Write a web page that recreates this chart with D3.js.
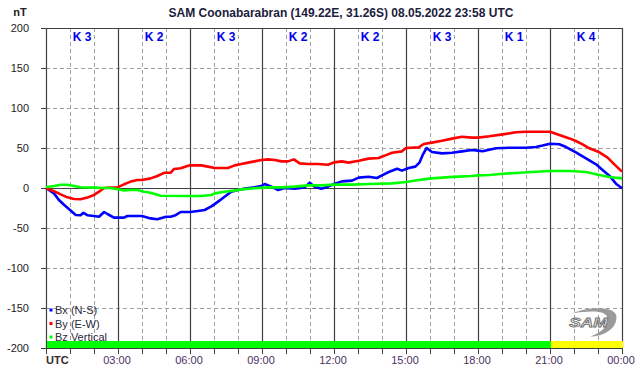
<!DOCTYPE html>
<html>
<head>
<meta charset="utf-8">
<script src="https://cdn.jsdelivr.net/npm/d3@7"></script>
<style>
  body { margin: 0; background: #fff; }
  svg { display: block; }
  text { font-family: Arial, 'Liberation Sans', sans-serif; }
</style>
</head>
<body>
<div id="main"></div>
<script>
// magnetometer readings, hours since 00:00 UTC -> nT
const bxHours = [0, 0.33, 0.54, 0.75, 1.0, 1.24, 1.44, 1.56, 1.72, 2.0, 2.21, 2.42, 2.56, 2.83, 3.0, 3.25, 3.39, 4.0, 4.36, 4.64, 5.0, 5.19, 5.4, 5.61, 6.0,
  6.33, 6.61, 6.89, 7.17, 7.44, 7.72, 8.0, 8.28, 8.69, 8.97, 9.11, 9.39, 9.67, 9.94, 10.36, 10.78, 10.99, 11.19, 11.47, 11.75, 12.0,
  12.33, 12.75, 13.03, 13.44, 13.79, 14.0, 14.28, 14.63, 14.83, 15.11, 15.39, 15.56, 15.69, 15.86, 16.08, 16.5, 16.92, 17.33, 17.75, 18.0,
  18.19, 18.75, 19.31, 20.0, 20.42, 20.69, 21.0, 21.39, 21.67, 22.08, 22.5, 22.92, 23.19, 23.47, 23.75, 24.0];
const bxValues = [0, -6.7, -15, -21, -27.5, -33.7, -34, -31, -34, -35, -36, -30, -32.5, -37, -37, -37, -35, -35, -38, -39, -36, -36, -34, -30, -30,
  -28.7, -27.5, -23, -17, -11, -4.6, -2.5, -0.8, 0.8, 2.5, 5, 1.7, -2.5, 0, -0.8, 0.8, 6.7, 1.7, -0.8, 1.7, 5,
  8.3, 9.2, 13, 14, 12.5, 15.8, 20, 24, 21.7, 25, 26.7, 31.7, 41, 50, 45, 43.3, 44, 45.8, 47.5, 46.7,
  46, 49.6, 50.4, 50.4, 51.2, 53, 55.4, 54.6, 51.2, 44.6, 37, 29.6, 22.5, 15.4, 5.4, -0.4];

const byHours = [0, 0.33, 0.61, 0.89, 1.17, 1.44, 1.72, 2.0, 2.21, 2.42, 2.69, 3.0, 3.25, 3.53, 3.81, 4.0, 4.36, 4.64, 4.92, 5.19, 5.33, 5.61, 5.89, 6.0,
  6.47, 6.75, 7.03, 7.58, 7.86, 8.14, 8.42, 8.69, 8.97, 9.25, 9.53, 9.81, 10.08, 10.33, 10.57, 10.92, 11.33, 11.75, 12.0,
  12.33, 12.61, 13.03, 13.44, 13.86, 14.14, 14.42, 14.83, 15.0, 15.53, 15.74, 16.08, 16.5, 16.92, 17.33, 17.75, 18.0,
  18.47, 19.03, 19.58, 20.0, 20.42, 21.0, 21.39, 21.81, 22.08, 22.36, 22.64, 23.06, 23.4, 23.68, 24.0];
const byValues = [0, -4, -8, -11.7, -13.7, -14, -12, -8.7, -4.6, 0, 0.5, 1, 4.6, 8, 10, 10, 12, 15, 19, 19, 23.7, 24.6, 27.5, 28.3,
  28.3, 26.7, 25, 25, 28.3, 30, 31.7, 33.3, 35, 35.8, 35, 33.3, 33.3, 35.8, 30.8, 30, 30, 29, 32,
  33.3, 31.7, 34, 36.7, 37.5, 40.8, 44, 45.8, 50, 50.8, 55, 56.7, 59, 61.7, 64, 63, 63,
  64.6, 67, 69.6, 70.4, 70.4, 70.4, 66.2, 62, 58.7, 54.6, 49.6, 44.6, 38, 29.6, 20.4];

const bzHours = [0, 0.33, 0.61, 0.89, 1.17, 1.44, 2.0, 2.42, 2.69, 3.0, 3.25, 3.53, 3.81, 4.08, 4.36, 4.78, 6.0,
  6.47, 6.89, 7.03, 7.44, 7.86, 8.14, 8.69, 9.25, 9.81, 10.36, 10.92, 11.47, 12.0,
  12.75, 13.44, 14.42, 15.0, 15.53, 15.94, 16.64, 17.19, 17.75, 18.0,
  18.47, 19.03, 19.58, 20.42, 21.0, 21.81, 22.5, 23.06, 23.47, 24.0];
const bzValues = [1, 2.5, 4, 4, 2.5, 1, 0.5, 0, 0, -1.5, -3, -2.5, -2.5, -4.6, -6, -9.6, -10,
  -10, -8.7, -6.7, -4.6, -3.3, -1.7, -0.4, 0.8, 0.8, 1.7, 3.3, 3.3, 4.2,
  4.2, 5, 5.8, 7.5, 10, 11.7, 13.3, 14.2, 15, 15.8,
  16.2, 17.9, 18.7, 20.4, 21.2, 21.2, 20, 16.2, 13.7, 12];

const kIndex = ['K 3', 'K 2', 'K 3', 'K 2', 'K 2', 'K 3', 'K 1', 'K 4'];
const kColors = ['#00ff00', '#00ff00', '#00ff00', '#00ff00', '#00ff00', '#00ff00', '#00ff00', '#ffff00'];
const yTicks = [200, 150, 100, 50, 0, -50, -100, -150, -200];
const xLabels = ['UTC', '03:00', '06:00', '09:00', '12:00', '15:00', '18:00', '21:00', '00:00'];
const seriesNames = ['Bx (N-S)', 'By (E-W)', 'Bz Vertical'];

const width = 642;
const height = 376;
const margin = { top: 28, right: 20, bottom: 28, left: 46 };
const plotW = width - margin.left - margin.right;
const plotH = height - margin.top - margin.bottom;

const x = d3.scaleLinear().domain([0, 24]).range([margin.left, margin.left + plotW]);
const y = d3.scaleLinear().domain([-200, 200]).range([margin.top + plotH, margin.top]);

const svg = d3.select('#main').append('svg').attr('width', width).attr('height', height);

/* grid */
const hours = d3.range(0, 25);
svg.selectAll('line.vgrid')
  .data(hours.filter((h) => h % 3 !== 0))
  .enter()
  .append('line')
  .attr('x1', (d) => x(d) + 0.5)
  .attr('x2', (d) => x(d) + 0.5)
  .attr('y1', y(200))
  .attr('y2', y(-200))
  .style('stroke', '#a0a0a0')
  .style('stroke-dasharray', '4,3');

svg.selectAll('line.hgrid')
  .data(yTicks.filter((v) => v !== 0 && Math.abs(v) !== 200))
  .enter()
  .append('line')
  .attr('x1', x(0))
  .attr('x2', x(24))
  .attr('y1', (d) => y(d) + 0.5)
  .attr('y2', (d) => y(d) + 0.5)
  .style('stroke', '#a0a0a0')
  .style('stroke-dasharray', '4,3');

svg.selectAll('line.vmajor')
  .data(d3.range(0, 25, 3))
  .enter()
  .append('line')
  .attr('x1', (d) => x(d) + 0.5)
  .attr('x2', (d) => x(d) + 0.5)
  .attr('y1', y(200))
  .attr('y2', y(-200))
  .style('stroke', '#404040')
  .style('stroke-width', 1.2);

[200, 0, -200].forEach((v) => {
  svg.append('line')
    .attr('x1', x(0))
    .attr('x2', x(24) + 1)
    .attr('y1', y(v) + 0.5)
    .attr('y2', y(v) + 0.5)
    .style('stroke', '#404040')
    .style('stroke-width', 1.2);
});

/* K-index bar along the bottom */
svg.selectAll('rect.kbar')
  .data(kIndex)
  .enter()
  .append('rect')
  .attr('x', (d, i) => x(i * 3) + 1)
  .attr('width', x(3) - x(0))
  .attr('y', y(-200) - 7)
  .attr('height', 7)
  .style('fill', (d, i) => kColors[i]);

svg.append('line')
  .attr('x1', x(0))
  .attr('x2', x(24) + 1)
  .attr('y1', y(-200) + 0.5)
  .attr('y2', y(-200) + 0.5)
  .style('stroke', '#404040')
  .style('stroke-width', 1.2);

svg.selectAll('text.k')
  .data(kIndex)
  .enter()
  .append('text')
  .attr('x', (d, i) => x(i * 3 + 1.5))
  .attr('y', 41)
  .attr('text-anchor', 'middle')
  .style('font-size', '12px')
  .style('font-weight', 'bold')
  .style('fill', '#0000ee')
  .text((d) => d);

/* axes */
svg.selectAll('line.ytick')
  .data(yTicks)
  .enter()
  .append('line')
  .attr('x1', x(0) - 5)
  .attr('x2', x(0))
  .attr('y1', (d) => y(d) + 0.5)
  .attr('y2', (d) => y(d) + 0.5)
  .style('stroke', '#404040');

svg.selectAll('text.ylab')
  .data(yTicks)
  .enter()
  .append('text')
  .attr('x', 29)
  .attr('y', (d) => y(d) + 4)
  .attr('text-anchor', 'end')
  .style('font-size', '11px')
  .style('fill', '#222')
  .text((d) => d);

svg.selectAll('line.xtick')
  .data(hours)
  .enter()
  .append('line')
  .attr('x1', (d) => x(d) + 0.5)
  .attr('x2', (d) => x(d) + 0.5)
  .attr('y1', y(-200))
  .attr('y2', y(-200) + 6)
  .style('stroke', '#404040');

svg.selectAll('text.xlab')
  .data(xLabels)
  .enter()
  .append('text')
  .attr('x', (d, i) => (i === 0 ? x(0) : x(i * 3) - 1))
  .attr('y', 364)
  .attr('text-anchor', (d, i) => (i === 0 ? 'start' : 'middle'))
  .style('font-size', '11px')
  .style('font-weight', (d, i) => (i === 0 ? 'bold' : 'normal'))
  .style('fill', (d, i) => (i === 0 ? '#3a2a2a' : '#4a3060'))
  .text((d) => d);

svg.append('text')
  .attr('x', 20)
  .attr('y', 16)
  .attr('text-anchor', 'middle')
  .style('font-size', '11px')
  .style('font-weight', 'bold')
  .style('fill', '#222')
  .text('nT');

svg.append('text')
  .attr('x', 341)
  .attr('y', 17)
  .attr('text-anchor', 'middle')
  .style('font-size', '12px')
  .style('font-weight', 'bold')
  .style('fill', '#1c1c3c')
  .text('SAM Coonabarabran (149.22E, 31.26S) 08.05.2022 23:58 UTC');

/* logo */
const logo = svg.append('g').attr('transform', `translate(${x(22.6)},${y(-168)})`);
logo.append('path')
  .attr('d', 'M-16,-9 C0,-16 30,-17 28,-4 C27,8 13,14 2,14 C14,10 21,2 19,-5 C17,-12 2,-12 -16,-9 Z')
  .style('fill', '#9a9a9a');
logo.append('text')
  .attr('x', 0)
  .attr('y', 5)
  .attr('text-anchor', 'middle')
  .attr('transform', 'scale(1.15,0.85)')
  .style('font-size', '15px')
  .style('font-style', 'italic')
  .style('font-weight', 'bold')
  .style('fill', '#f0f0f0')
  .style('stroke', '#6a6a6a')
  .style('stroke-width', 0.9)
  .text('SAM');

/* series */
const line = d3.line()
  .x((d) => x(d[0]))
  .y((d) => y(d[1]));

const series = [
  { hours: bxHours, values: bxValues, color: '#0000ff' },
  { hours: byHours, values: byValues, color: '#ff0000' },
  { hours: bzHours, values: bzValues, color: '#00ff00' },
];

svg.selectAll('path.series')
  .data(series)
  .enter()
  .append('path')
  .attr('d', (s) => line(d3.zip(s.hours, s.values)))
  .style('fill', 'none')
  .style('stroke', (s) => s.color)
  .style('stroke-width', 2.6)
  .style('stroke-linejoin', 'round');

/* legend */
const legend = svg.selectAll('g.legend')
  .data(seriesNames)
  .enter()
  .append('g')
  .attr('transform', (d, i) => `translate(51,${310 + i * 13.5})`);

legend.append('rect')
  .attr('x', -1.5)
  .attr('y', -1.5)
  .attr('width', 3)
  .attr('height', 3)
  .style('fill', (d, i) => series[i].color);

legend.append('text')
  .attr('x', 4)
  .attr('y', 4)
  .style('font-size', '11px')
  .style('fill', '#2a2a3a')
  .text((d) => d);
</script>
</body>
</html>
